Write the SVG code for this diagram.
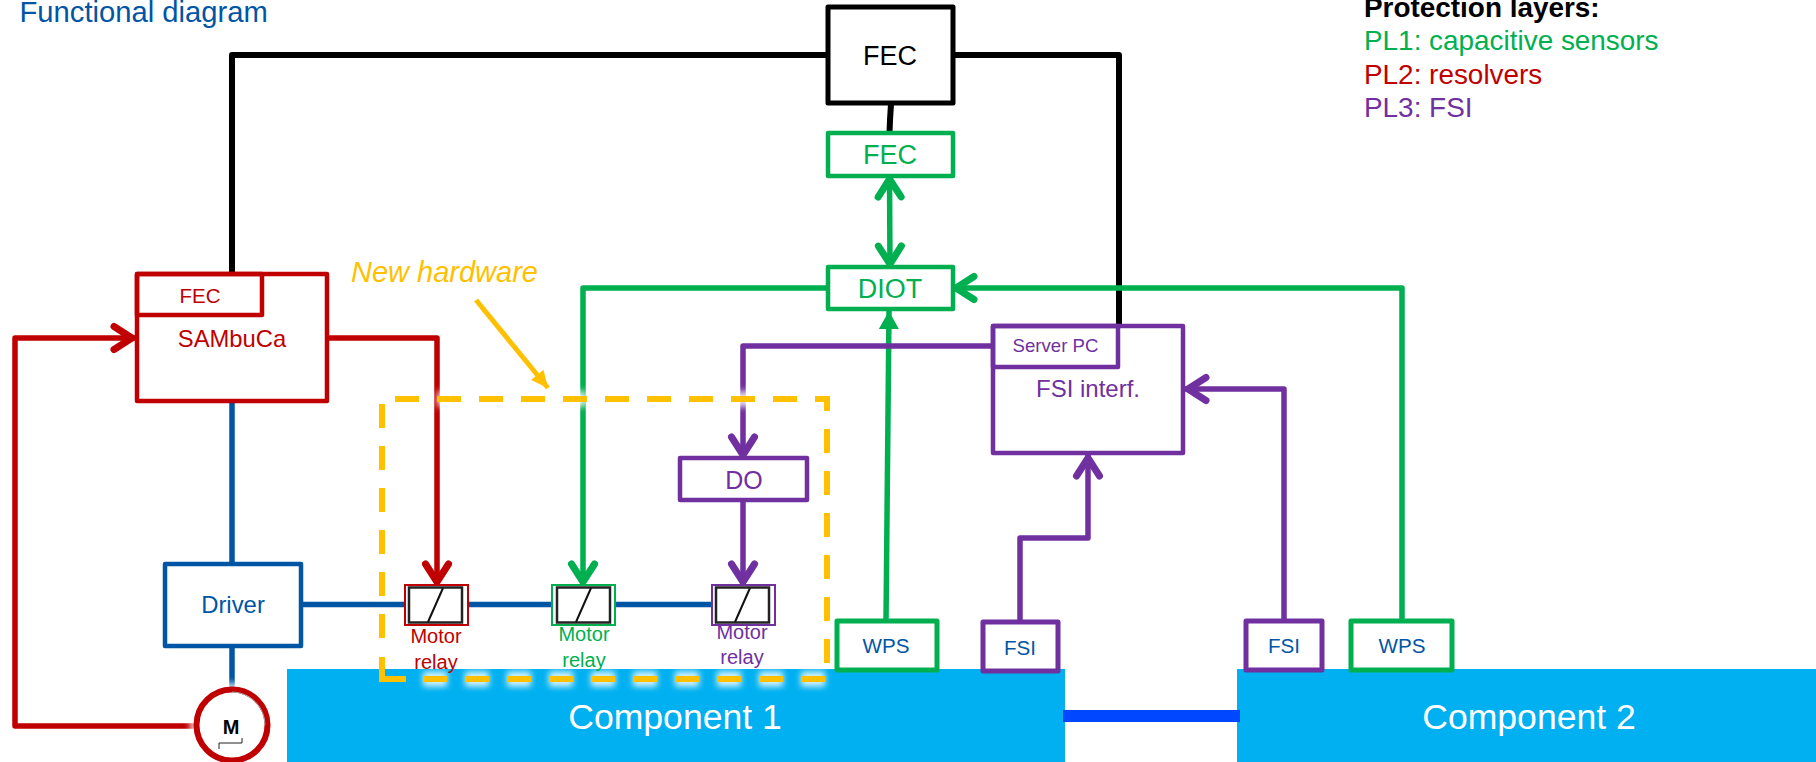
<svg xmlns="http://www.w3.org/2000/svg" xmlns:xlink="http://www.w3.org/1999/xlink" width="1816" height="762" viewBox="0 0 1816 762">
<style>
text{font-family:"Liberation Sans",Arial,sans-serif}
.m{text-anchor:middle}
.box{fill:#fff;stroke-width:4.500;stroke-linejoin:round}
.sub{fill:none;stroke-width:4.500;stroke-linejoin:round}
.thick{stroke-width:5}
.line{fill:none;stroke-width:5.500;stroke-linejoin:round}
.red{stroke:#C00000}.grn{stroke:#00B050}.pur{stroke:#7030A0}.blu{stroke:#0055A5}.blk{stroke:#000}
.tr{fill:#C00000}.tg{fill:#00B050}.tp{fill:#7030A0}.tb{fill:#0055A5}.tk{fill:#000}.tw{fill:#fff}
.relay{fill:#fff;stroke-width:2}
.inner{fill:#fff;stroke:#222;stroke-width:2.500}
.diag{stroke:#111;stroke-width:2;fill:none}
.dash{fill:none;stroke-dasharray:24 18}
</style>
<defs>
<filter id="blur" x="-10%" y="-10%" width="120%" height="120%"><feGaussianBlur stdDeviation="3"/></filter>
<marker id="aR" markerUnits="userSpaceOnUse" markerWidth="40" markerHeight="40" refX="0" refY="0" orient="auto" overflow="visible"><path d="M-21 -11.500 L-3 0 L-21 11.500" fill="none" stroke="#C00000" stroke-width="7" stroke-linecap="round"/></marker>
<marker id="aG" markerUnits="userSpaceOnUse" markerWidth="40" markerHeight="40" refX="0" refY="0" orient="auto" overflow="visible"><path d="M-21 -11.500 L-3 0 L-21 11.500" fill="none" stroke="#00B050" stroke-width="7" stroke-linecap="round"/></marker>
<marker id="aGs" markerUnits="userSpaceOnUse" markerWidth="40" markerHeight="40" refX="0" refY="0" orient="auto-start-reverse" overflow="visible"><path d="M-21 -11.500 L-3 0 L-21 11.500" fill="none" stroke="#00B050" stroke-width="7" stroke-linecap="round"/></marker>
<marker id="aP" markerUnits="userSpaceOnUse" markerWidth="40" markerHeight="40" refX="0" refY="0" orient="auto" overflow="visible"><path d="M-21 -11.500 L-3 0 L-21 11.500" fill="none" stroke="#7030A0" stroke-width="7" stroke-linecap="round"/></marker>
<marker id="aF" markerUnits="userSpaceOnUse" markerWidth="40" markerHeight="40" refX="0" refY="0" orient="auto" overflow="visible"><path d="M-18 -10 L0 0 L-18 10 Z" fill="#00B050"/></marker>
<marker id="aO" markerUnits="userSpaceOnUse" markerWidth="40" markerHeight="40" refX="0" refY="0" orient="auto" overflow="visible"><path d="M-17 -8 L0 0 L-17 8 Z" fill="#FFC000"/></marker>
<g id="dashes">
<path d="M395 399 H827 V679 H406"/>
<path d="M382 638 V403"/>
</g>
</defs>

<rect id="component-1" x="287" y="669" width="778" height="93" fill="#00B0F0"/>
<rect id="component-2" x="1237" y="669" width="579" height="93" fill="#00B0F0"/>

<g id="connectors">
<path class="line blk" style="stroke-width:6" d="M828 55 H232 V276"/>
<path class="line blk" style="stroke-width:6" d="M953 55 H1119 V326"/>
<path class="line blk" style="stroke-width:6" d="M891 104 L890 120 L889.500 133"/>
<path class="line grn" d="M889.500 176 L890 267" marker-start="url(#aGs)" marker-end="url(#aGs)"/>
<path class="line grn" d="M827 288 H583 V585" marker-end="url(#aG)"/>
<path class="line grn" d="M1402 621 V288 H953" marker-end="url(#aG)"/>
<path class="line grn" d="M886 621 L889 311" marker-end="url(#aF)"/>
<path class="line pur" d="M993 346 H743 V458" marker-end="url(#aP)"/>
<path class="line pur" d="M743 500 V585" marker-end="url(#aP)"/>
<path class="line pur" d="M1020 622 V538 H1088 V455" marker-end="url(#aP)"/>
<path class="line pur" d="M1284 621 V389 H1185" marker-end="url(#aP)"/>
<path class="line red" d="M327 338 H437 V585" marker-end="url(#aR)"/>
<path class="line red" d="M195 726 H15 V338 H135" marker-end="url(#aR)"/>
<path class="line blu" d="M232 401 V564"/>
<path class="line blu" d="M232 646 V690"/>
<path class="line blu" d="M301 604.500 H712"/>
<path d="M476 300 L548 388" fill="none" stroke="#FFC000" stroke-width="5" marker-end="url(#aO)"/>
<rect id="link-component" x="1063" y="710" width="177" height="12" fill="#0047FF"/>
</g>

<g id="new-hardware-box">
<use xlink:href="#dashes" class="dash" stroke="#fff" stroke-width="15" filter="url(#blur)" opacity="0.85"/>
<use xlink:href="#dashes" class="dash" stroke="#FFC000" stroke-width="6"/>
<path d="M406 679 H382 V657" fill="none" stroke="#FFC000" stroke-width="6"/>
</g>

<g id="title"><text x="19.500" y="21.500" font-size="29.200" class="tb">Functional diagram</text></g>
<g id="legend" font-size="27.900">
<text x="1364" y="17" font-weight="bold" class="tk">Protection layers:</text>
<text x="1364" y="50" class="tg">PL1: capacitive sensors</text>
<text x="1364" y="84" class="tr">PL2: resolvers</text>
<text x="1364" y="117" class="tp">PL3: FSI</text>
</g>
<g id="new-hardware-label"><text x="351" y="282" font-size="29" font-style="italic" fill="#FFC000">New hardware</text></g>

<g id="fec-main"><rect x="828" y="7" width="125" height="96" class="box blk thick"/><text x="890" y="65" font-size="27" class="m tk">FEC</text></g>
<g id="fec-green"><rect x="828" y="133" width="125" height="43" class="box grn"/><text x="890" y="164" font-size="27" class="m tg">FEC</text></g>
<g id="diot"><rect x="828" y="267" width="125" height="42" class="box grn"/><text x="890" y="298" font-size="27" class="m tg">DIOT</text></g>

<g id="sambuca"><rect x="137" y="274" width="190" height="127" class="box red"/><rect x="137" y="274" width="125" height="41" class="sub red"/><text x="200" y="303" font-size="20.500" class="m tr">FEC</text><text x="232" y="347" font-size="23.800" class="m tr">SAMbuCa</text></g>
<g id="driver"><rect x="165" y="564" width="136" height="82" class="box blu"/><text x="233" y="613" font-size="23.900" class="m tb">Driver</text></g>

<g id="motor">
<circle cx="232" cy="725" r="42" fill="#fff" opacity="0.8" filter="url(#blur)"/>
<circle cx="232" cy="725" r="35.500" fill="#fff" stroke="#C00000" stroke-width="6"/>
<path d="M232 692 A33 33 0 0 1 265 725" fill="none" stroke="#aaa" stroke-width="1"/>
<text x="231" y="734" font-size="20" font-weight="bold" class="m tk">M</text>
<path d="M219 749 V743 H242 V738" fill="none" stroke="#222" stroke-width="1"/>
</g>

<g id="do"><rect x="680" y="458" width="127" height="42" class="box pur"/><text x="744" y="489" font-size="25" class="m tp">DO</text></g>

<g id="relay-red"><rect x="405" y="585" width="63" height="40" class="relay red"/><rect x="409" y="587.500" width="53" height="35" class="inner"/><path class="diag" d="M428 622 L443 588"/><text x="436" y="643" font-size="20" class="m tr">Motor</text><text x="436" y="669" font-size="20" class="m tr">relay</text></g>
<g id="relay-green"><rect x="552" y="585" width="63" height="40" class="relay grn"/><rect x="557" y="587.500" width="53" height="35" class="inner"/><path class="diag" d="M576 622 L591 588"/><text x="584" y="641" font-size="20" class="m tg">Motor</text><text x="584" y="667" font-size="20" class="m tg">relay</text></g>
<g id="relay-purple"><rect x="712" y="585" width="63" height="40" class="relay pur"/><rect x="716" y="587.500" width="53" height="35" class="inner"/><path class="diag" d="M735 622 L750 588"/><text x="742" y="639" font-size="20" class="m tp">Motor</text><text x="742" y="664" font-size="20" class="m tp">relay</text></g>

<g id="fsi-interface"><rect x="993" y="326" width="190" height="127" class="box pur"/><rect x="993" y="326" width="125" height="41" class="sub pur"/><text x="1055.500" y="352" font-size="18.600" class="m tp">Server PC</text><text x="1088" y="397" font-size="24" class="m tp">FSI interf.</text></g>

<g id="wps-1"><rect x="837" y="621" width="100" height="49" class="box grn thick"/><text x="886" y="653" font-size="20.600" class="m tb">WPS</text></g>
<g id="fsi-1"><rect x="983" y="622" width="75" height="49" class="box pur thick"/><text x="1020" y="655" font-size="20.600" class="m tb">FSI</text></g>
<g id="fsi-2"><rect x="1246" y="621" width="76" height="49" class="box pur thick"/><text x="1284" y="653" font-size="20.600" class="m tb">FSI</text></g>
<g id="wps-2"><rect x="1351" y="621" width="101" height="49" class="box grn thick"/><text x="1402" y="653" font-size="20.600" class="m tb">WPS</text></g>

<g id="component-labels"><text x="675" y="729" font-size="35.600" class="m tw">Component 1</text><text x="1529" y="729" font-size="35.600" class="m tw">Component 2</text></g>
</svg>
